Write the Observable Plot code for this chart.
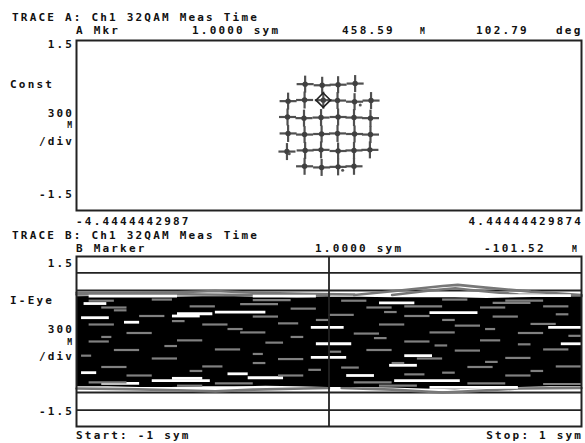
<!DOCTYPE html>
<html><head><meta charset="utf-8">
<script src="https://cdn.jsdelivr.net/npm/d3@7"></script>
<script src="https://cdn.jsdelivr.net/npm/@observablehq/plot@0.6"></script>
<style>
html,body{margin:0;padding:0;background:#fff;}
#wrap{position:relative;width:585px;height:443px;overflow:hidden;background:#fff;}
#wrap svg{position:absolute;left:0;}
</style></head><body><div id="wrap"></div>
<script>
// ---------- texts ----------
const titleA = "TRACE A: Ch1 32QAM Meas Time";
const titleB = "TRACE B: Ch1 32QAM Meas Time";
const mkrA = ["A Mkr", "1.0000 sym", "458.59", "M", "102.79", "deg"];
const mkrB = ["B Marker", "1.0000 sym", "-101.52", "M"];
const traceNameA = "Const";
const traceNameB = "I-Eye";
const scaleText = ["300", "M", "/div"];
const yTickLabels = ["1.5", "-1.5"];
const xTickLabelsA = ["-4.4444442987", "4.44444429874"];
const xTickLabelsB = ["Start: -1 sym", "Stop: 1 sym"];
const eyeDomain = [-1, 1];

// ---------- constellation (I, Q) ----------
const constI = [
  -0.42, -0.12, 0.16, 0.46,
  -0.72, -0.43, -0.10, 0.15, 0.45, 0.74,
  -0.73, -0.44, -0.14, 0.16, 0.44, 0.73,
  -0.72, -0.43, -0.13, 0.15, 0.45, 0.73,
  -0.74, -0.42, -0.14, 0.16, 0.44, 0.72,
  -0.43, -0.13, 0.16, 0.44
];
const constQ = [
  0.73, 0.71, 0.72, 0.74,
  0.43, 0.45, 0.447, 0.44, 0.42, 0.44,
  0.15, 0.13, 0.14, 0.15, 0.14, 0.13,
  -0.14, -0.16, -0.15, -0.14, -0.15, -0.16,
  -0.46, -0.44, -0.43, -0.45, -0.44, -0.43,
  -0.72, -0.74, -0.73, -0.72
];
const strayI = [0.24, -0.70, 0.55];
const strayQ = [-0.79, -0.50, 0.36];
const markerMag = 0.45859;      // 458.59 m
const markerPhaseDeg = 102.79;  // deg

// ---------- eye diagram ----------
const eyeRefLevels = [1.21, 0.9, -0.9, -1.21];
const markerSym = [0];
const bandX = [-1, -0.875, -0.75, -0.625, -0.5, -0.375, -0.25, -0.125, 0, 0.125, 0.25, 0.375, 0.5, 0.625, 0.75, 0.875, 1];
const bandTop = [0.79, 0.80, 0.79, 0.78, 0.79, 0.79, 0.78, 0.77, 0.78, 0.78, 0.77, 0.77, 0.77, 0.76, 0.77, 0.78, 0.78];
const bandBottom = [-0.80, -0.80, -0.81, -0.81, -0.80, -0.80, -0.79, -0.80, -0.81, -0.81, -0.82, -0.84, -0.85, -0.83, -0.81, -0.80, -0.80];
const fringeU1 = [[-1, 0.86], [-0.8, 0.86], [-0.6, 0.87], [-0.45, 0.89], [-0.3, 0.86], [-0.1, 0.84], [0.1, 0.83]];
const fringeU2 = [[-1, 0.83], [-0.7, 0.84], [-0.5, 0.83], [-0.3, 0.82], [0, 0.81]];
const fringeU3 = [[0.1, 0.82], [0.28, 0.9], [0.45, 0.98], [0.51, 1.0], [0.6, 0.96], [0.8, 0.88], [1, 0.82]];
const fringeU4 = [[0.25, 0.82], [0.4, 0.9], [0.5, 0.94], [0.56, 0.91], [0.75, 0.83], [1, 0.8]];
const fringeL1 = [[-1, -0.83], [-0.8, -0.84], [-0.6, -0.86], [-0.45, -0.88], [-0.3, -0.85], [-0.1, -0.83], [0, -0.82]];
const fringeL2 = [[0.05, -0.82], [0.25, -0.85], [0.45, -0.9], [0.55, -0.88], [0.75, -0.83], [1, -0.82]];
// streaks: [x1, x2, y]
const whiteStreaks = [
  [-0.97, -0.88, 0.67], [-0.6, -0.46, 0.49], [-0.45, -0.25, 0.52], [-0.98, -0.87, 0.42], [-0.81, -0.75, 0.34],
  [-0.62, -0.51, 0.45], [-0.98, -0.92, -0.55], [-0.62, -0.5, -0.65], [-0.32, -0.18, -0.64], [-0.9, -0.75, -0.74],
  [-0.7, -0.47, -0.69], [-0.4, -0.32, -0.57], [0.2, 0.34, 0.68], [0.4, 0.59, 0.51], [-0.07, 0.06, 0.25],
  [0.87, 1.0, 0.25], [-0.05, 0.09, -0.04], [0.92, 1.0, -0.04], [-0.07, 0.07, -0.28], [0.3, 0.41, -0.25],
  [0.24, 0.35, -0.42], [0.07, 0.18, -0.6], [0.26, 0.52, -0.69], [0.4, 0.75, -0.81], [0.59, 0.96, 0.81],
  [-0.95, -0.6, 0.8], [-0.3, -0.05, 0.8]
];
const grayStreaks = [
  [-0.95, -0.85, 0.72], [-0.7, -0.62, 0.74], [-0.3, -0.15, 0.73], [0.05, 0.15, 0.72], [0.45, 0.55, 0.74], [0.7, 0.85, 0.72],
  [-0.9, -0.8, 0.6], [-0.55, -0.45, 0.62], [-0.15, -0.05, 0.58], [0.15, 0.25, 0.6], [0.6, 0.7, 0.6], [0.85, 0.95, 0.62],
  [-0.75, -0.65, 0.45], [-0.3, -0.2, 0.44], [0.0, 0.1, 0.47], [0.3, 0.4, 0.45], [0.65, 0.75, 0.44],
  [-0.95, -0.85, 0.3], [-0.5, -0.4, 0.3], [-0.2, -0.12, 0.32], [0.2, 0.3, 0.3], [0.5, 0.6, 0.28], [0.8, 0.9, 0.31],
  [-0.8, -0.7, 0.15], [-0.35, -0.25, 0.16], [0.1, 0.2, 0.14], [0.4, 0.5, 0.16], [0.75, 0.85, 0.15],
  [-0.95, -0.87, 0.0], [-0.6, -0.5, 0.02], [-0.25, -0.18, -0.02], [0.3, 0.4, 0.0], [0.6, 0.68, 0.02],
  [-0.85, -0.75, -0.15], [-0.45, -0.35, -0.14], [0.15, 0.25, -0.15], [0.5, 0.6, -0.16], [0.85, 0.95, -0.14],
  [-0.7, -0.6, -0.3], [-0.2, -0.1, -0.31], [0.35, 0.45, -0.3], [0.7, 0.8, -0.29],
  [-0.9, -0.8, -0.45], [-0.5, -0.42, -0.44], [0.05, 0.12, -0.46], [0.55, 0.65, -0.45], [0.9, 1.0, -0.44],
  [-0.8, -0.7, -0.6], [-0.2, -0.1, -0.6], [0.3, 0.38, -0.58], [0.7, 0.8, -0.6],
  [-0.95, -0.8, -0.72], [-0.45, -0.3, -0.74], [0.1, 0.25, -0.72], [0.55, 0.7, -0.74], [0.85, 1.0, -0.75],
  [-0.85, -0.8, 0.55], [-0.62, -0.57, 0.36], [-0.4, -0.34, 0.22], [-0.05, 0.0, 0.38], [0.22, 0.27, 0.52],
  [0.45, 0.5, 0.38], [0.62, 0.66, 0.22], [0.9, 0.95, 0.48], [-0.9, -0.86, 0.08], [-0.15, -0.1, 0.08],
  [0.18, 0.23, 0.06], [0.42, 0.47, -0.07], [0.75, 0.8, -0.05], [-0.65, -0.6, -0.08], [-0.3, -0.26, -0.22],
  [0.0, 0.05, -0.18], [0.25, 0.3, -0.38], [0.62, 0.67, -0.36], [-0.55, -0.5, -0.52], [-0.08, -0.03, -0.5],
  [0.45, 0.5, -0.55], [0.8, 0.85, -0.52], [-0.3, -0.25, -0.38], [-0.98, -0.94, -0.25], [0.95, 1.0, 0.1],
  [-0.35, -0.2, 0.66], [0.3, 0.45, 0.62], [-0.6, -0.5, -0.78], [0.2, 0.35, -0.78], [0.65, 0.8, 0.68]
];

// ---------- build ----------
const wrap = document.getElementById("wrap");
const yDomain = yTickLabels.map(Number).reverse();
const constDomain = xTickLabelsA.map(Number);
const pts = constI.map((i, k) => ({i, q: constQ[k]}));
const stray = strayI.map((i, k) => ({i, q: strayQ[k]}));
const rad = markerPhaseDeg * Math.PI / 180;
const mk = [{i: markerMag * Math.cos(rad), q: markerMag * Math.sin(rad)}];
const arm = 0.15;
const ink = "#222";

const topChart = Plot.plot({
  width: 585, height: 215,
  marginLeft: 76, marginRight: 4, marginTop: 40, marginBottom: 5,
  style: {background: "transparent"},
  x: {domain: constDomain, axis: null},
  y: {domain: yDomain, axis: null},
  marks: [
    Plot.link(pts, {x1: d => d.i - arm, x2: d => d.i + arm, y1: "q", y2: "q", stroke: "#505050", strokeWidth: 2.2}),
    Plot.link(pts, {x1: "i", x2: "i", y1: d => d.q - arm, y2: d => d.q + arm, stroke: "#505050", strokeWidth: 2.2}),
    Plot.dot(pts, {x: "i", y: "q", r: 2.7, fill: "#404040"}),
    Plot.dot(stray, {x: "i", y: "q", r: 1.5, fill: "#555"}),
    Plot.dot(mk, {x: "i", y: "q", symbol: "diamond2", r: 6.5, stroke: ink, strokeWidth: 1.6, fill: "none"}),
    Plot.frame({stroke: ink, strokeWidth: 2})
  ]
});
topChart.style.top = "0px";
wrap.append(topChart);

const band = bandX.map((x, k) => ({x, hi: bandTop[k], lo: bandBottom[k]}));
const fringe = [fringeU1, fringeU2, fringeU3, fringeU4, fringeL1, fringeL2]
  .flatMap((tr, z) => tr.map(([x, y]) => ({x, y, z})));
const toSeg = a => a.map(([x1, x2, y]) => ({x1, x2, y}));

const eyeChart = Plot.plot({
  width: 585, height: 181,
  marginLeft: 76, marginRight: 4, marginTop: 6, marginBottom: 5,
  style: {background: "transparent"},
  x: {domain: eyeDomain, axis: null},
  y: {domain: yDomain, axis: null},
  marks: [
    Plot.ruleY(eyeRefLevels, {stroke: ink, strokeWidth: 1.8}),
    Plot.line(fringe, {x: "x", y: "y", z: "z", stroke: "#777", strokeWidth: 2.6}),
    Plot.areaY(band, {x: "x", y1: "lo", y2: "hi", fill: "#000"}),
    Plot.ruleY(toSeg(whiteStreaks), {x1: "x1", x2: "x2", y: "y", stroke: "#fff", strokeWidth: 2.8}),
    Plot.ruleY(toSeg(grayStreaks), {x1: "x1", x2: "x2", y: "y", stroke: "#808080", strokeWidth: 2.2}),
    Plot.ruleX(markerSym, {stroke: ink, strokeWidth: 1.8}),
    Plot.frame({stroke: ink, strokeWidth: 2})
  ]
});
eyeChart.style.top = "250px";
wrap.append(eyeChart);

// ---------- text overlay ----------
const svg = d3.select(wrap).append("svg")
  .attr("width", 585).attr("height", 443).style("top", "0px").style("pointer-events", "none");
function txt(s, x, y, anchor = "start", small = false) {
  svg.append("text").text(s)
    .attr("x", anchor === "end" && !small ? x + 2.2 : x).attr("y", y)
    .attr("text-anchor", anchor)
    .attr("font-family", "'DejaVu Sans Mono', monospace")
    .attr("font-weight", "bold")
    .attr("font-size", small ? 8 : 11)
    .attr("letter-spacing", small ? 0 : 2.2)
    .attr("fill", "#111");
}
txt(titleA, 12, 21);
txt(mkrA[0], 76, 34); txt(mkrA[1], 192, 34); txt(mkrA[2], 342, 34);
txt(mkrA[3], 420, 34, "start", true); txt(mkrA[4], 476, 34); txt(mkrA[5], 556, 34);
txt(yTickLabels[0], 72, 48, "end");
txt(traceNameA, 10, 88);
txt(scaleText[0], 72, 117, "end"); txt(scaleText[1], 72, 128, "end", true); txt(scaleText[2], 72, 145, "end");
txt(yTickLabels[1], 72, 198, "end");
txt(xTickLabelsA[0], 76, 225); txt(xTickLabelsA[1], 581, 225, "end");
txt(titleB, 12, 239);
txt(mkrB[0], 76, 252); txt(mkrB[1], 315, 252); txt(mkrB[2], 484, 252); txt(mkrB[3], 572, 252, "start", true);
txt(yTickLabels[0], 72, 267, "end");
txt(traceNameB, 10, 304);
txt(scaleText[0], 72, 333, "end"); txt(scaleText[1], 72, 345, "end", true); txt(scaleText[2], 72, 360, "end");
txt(yTickLabels[1], 72, 415, "end");
txt(xTickLabelsB[0], 76, 439); txt(xTickLabelsB[1], 581, 439, "end");
</script></body></html>
